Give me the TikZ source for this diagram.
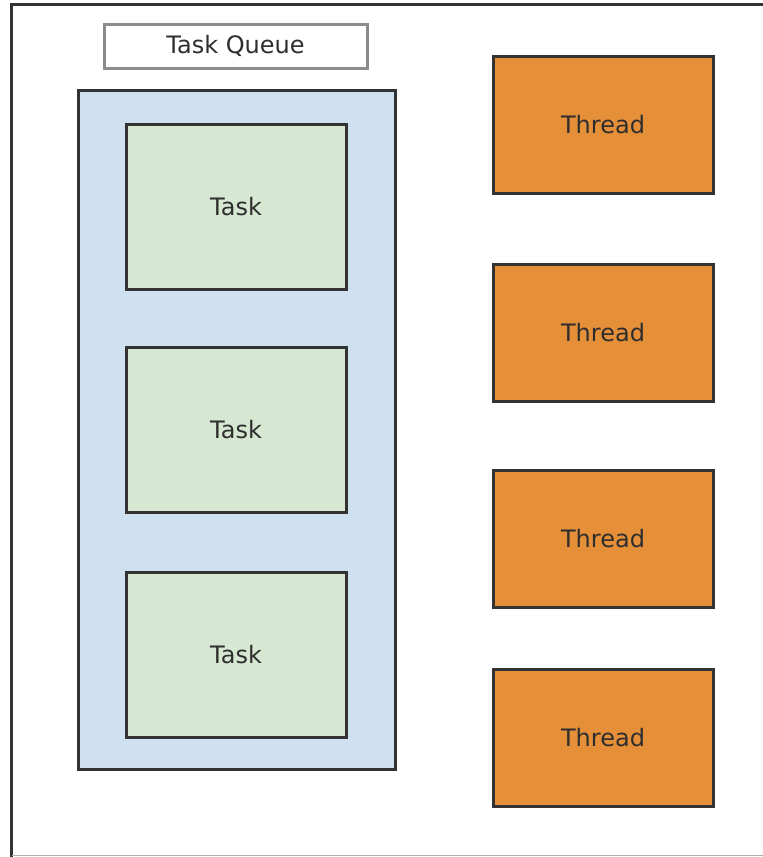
\documentclass[tikz,border=0pt]{standalone}
\usepackage{fontspec}
\setmainfont{DejaVu Sans}
\definecolor{edge}{HTML}{333333}
\definecolor{labeledge}{HTML}{8C8C8C}
\definecolor{queuefill}{HTML}{CFE0F1}
\definecolor{taskfill}{HTML}{D7E8D2}
\definecolor{threadfill}{HTML}{E58F38}
\definecolor{txt}{HTML}{2E2E2E}
\tikzset{
  box/.style={draw=edge, line width=3pt, inner sep=0pt, text=txt,
    font=\fontsize{24}{28}\selectfont},
  taskbox/.style={box, fill=taskfill, minimum width=220pt, minimum height=165pt},
  threadbox/.style={box, fill=threadfill, minimum width=220pt, minimum height=137pt},
}
\begin{document}
\begin{tikzpicture}[x=1pt, y=-1pt]
  \useasboundingbox (0,0) rectangle (763,857);
  % outer frame, running past the right and bottom edges
  \begin{scope}
    \clip (0,0) rectangle (763,857);
    \draw[edge, line width=3pt] (11.5,900) -- (11.5,4.5) -- (800,4.5);
    \draw[labeledge!70, line width=1pt] (11.5,855.5) -- (800,855.5);
  \end{scope}
  % queue label
  \node[draw=labeledge, line width=3pt, fill=white, minimum width=263pt,
        minimum height=44pt, inner sep=0pt, text=txt,
        font=\fontsize{24}{28}\selectfont] (label) at (235.5,46) {Task Queue};
  % queue container
  \node[draw=edge, line width=3pt, fill=queuefill, minimum width=317pt,
        minimum height=679pt, inner sep=0pt] (queue) at (236.5,429.5) {};
  % tasks
  \node[taskbox] (t1) at (236,206.5) {Task};
  \node[taskbox] (t2) at (236,429.5) {Task};
  \node[taskbox] (t3) at (236,654.5) {Task};
  % threads
  \node[threadbox] (h1) at (603,124.5) {Thread};
  \node[threadbox] (h2) at (603,332.5) {Thread};
  \node[threadbox] (h3) at (603,538.5) {Thread};
  \node[threadbox] (h4) at (603,737.5) {Thread};
\end{tikzpicture}
\end{document}
